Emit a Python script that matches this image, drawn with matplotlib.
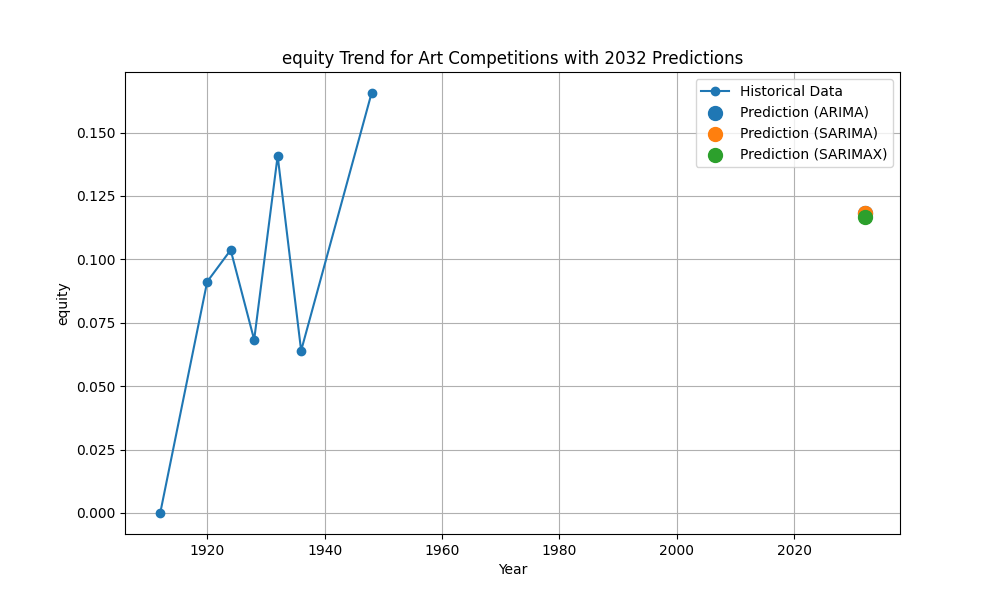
import matplotlib
matplotlib.use("Agg")
import matplotlib.pyplot as plt

years = [1912, 1920, 1924, 1928, 1932, 1936, 1948]
equity = [0.0, 0.0912, 0.1037, 0.0683, 0.1408, 0.0640, 0.1656]

pred_year = 2032
pred_arima = 0.1182
pred_sarima = 0.1183
pred_sarimax = 0.1168

fig = plt.figure(figsize=(10, 6), dpi=100)
plt.plot(years, equity, marker='o', label='Historical Data')
plt.scatter([pred_year], [pred_arima], s=100, label='Prediction (ARIMA)')
plt.scatter([pred_year], [pred_sarima], s=100, label='Prediction (SARIMA)')
plt.scatter([pred_year], [pred_sarimax], s=100, label='Prediction (SARIMAX)')
plt.title('equity Trend for Art Competitions with 2032 Predictions')
plt.xlabel('Year')
plt.ylabel('equity')
plt.legend()
plt.grid(True)
plt.savefig('out.png')
